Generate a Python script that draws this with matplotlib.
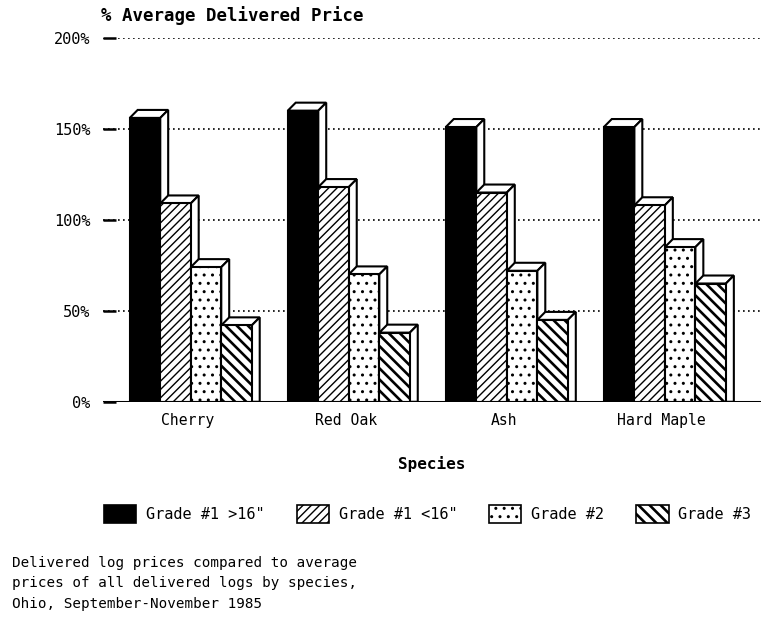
import numpy as np
import matplotlib
matplotlib.use("Agg")
import matplotlib.pyplot as plt
from matplotlib.patches import Polygon, Patch

species = ["Cherry", "Red Oak", "Ash", "Hard Maple"]
grades = ['Grade #1 >16"', 'Grade #1 <16"', "Grade #2", "Grade #3"]
grade1_big = [156, 160, 151, 151]
grade1_small = [109, 118, 115, 108]
grade2 = [74, 70, 72, 85]
grade3 = [42, 38, 45, 65]
yticks = [0, 50, 100, 150, 200]
ytick_labels = ["0%", "50%", "100%", "150%", "200%"]

values = [grade1_big, grade1_small, grade2, grade3]
faces = ["black", "white", "white", "white"]
hatches = [None, "////", "..", "\\\\\\"]
hatch_lw = [1.0, 1.0, 1.0, 1.9]

plt.rcParams["font.family"] = ["DejaVu Sans Mono"]

fig = plt.figure(figsize=(7.61, 6.21), dpi=100)
ax = fig.add_axes([0.135, 0.353, 0.865, 0.586])

group_step = 5.18
width = 1.0
dx, dy = 0.26, 4.4  # fake 3d depth
base = np.arange(len(species)) * group_step


def set_hlw(p, lw):
    if hasattr(p, "set_hatch_linewidth"):
        p.set_hatch_linewidth(lw)


handles = []
for j, vals in enumerate(values):
    xs = base + j * width
    z = 3 + j * 3
    bars = ax.bar(xs, vals, width=width, align="edge", color=faces[j],
                  hatch=hatches[j], edgecolor="black", linewidth=1.5, zorder=z + 2)
    for b in bars:
        set_hlw(b, hatch_lw[j])
    for x, h in zip(xs, vals):
        top = Polygon([(x, h), (x + width, h), (x + width + dx, h + dy), (x + dx, h + dy)],
                      closed=True, facecolor="white", edgecolor="black", lw=1.5, zorder=z)
        side = Polygon([(x + width, 0), (x + width + dx, 0), (x + width + dx, h + dy), (x + width, h)],
                       closed=True, facecolor="white", edgecolor="black", lw=1.5, zorder=z)
        ax.add_patch(top)
        ax.add_patch(side)
    hp = Patch(facecolor=faces[j], edgecolor="black", hatch=hatches[j], lw=1.2, label=grades[j])
    set_hlw(hp, hatch_lw[j])
    handles.append(hp)

ax.set_xlim(-0.885, 20.69)
ax.set_ylim(0, 200)
ax.set_yticks(yticks)
ax.set_yticklabels(ytick_labels, fontsize=11)
ax.set_xticks(base + 1.9)
ax.set_xticklabels(species, fontsize=10.6)
ax.tick_params(axis="x", length=0, pad=8)
ax.tick_params(axis="y", direction="in", length=9, width=1.8, pad=9)
for y in yticks[1:]:
    ax.axhline(y, color="black", lw=1.2, ls=(0, (1, 2)), zorder=1)
ax.axhline(0, color="black", lw=2.2, zorder=20)
for s in ["top", "right", "left", "bottom"]:
    ax.spines[s].set_visible(False)

ax.set_xlabel("Species", fontsize=11.5, fontweight="bold", labelpad=20)
fig.text(0.133, 0.975, "% Average Delivered Price", fontsize=12.5, fontweight="bold",
         ha="left", va="center")

leg = fig.legend(handles=handles, loc="center", bbox_to_anchor=(0.562, 0.172), ncol=4,
                 frameon=False, fontsize=11, handlelength=2.1, handleheight=1.45,
                 columnspacing=2.1, handletextpad=0.65)
for p, lw in zip(leg.get_patches(), hatch_lw):
    set_hlw(p, lw)

fig.text(0.016, 0.061, "Delivered log prices compared to average\n"
         "prices of all delivered logs by species,\n"
         "Ohio, September-November 1985",
         fontsize=10.3, ha="left", va="center", linespacing=1.6)

fig.savefig("out.png", dpi=100)
